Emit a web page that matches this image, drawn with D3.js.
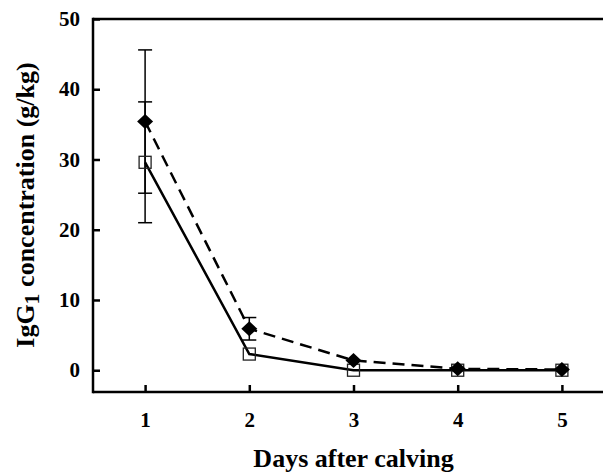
<!DOCTYPE html>
<html>
<head>
<meta charset="utf-8">
<script src="https://cdnjs.cloudflare.com/ajax/libs/d3/7.8.5/d3.min.js"></script>
<style>
  body { margin: 0; background: #fff; }
  svg { display: block; }
  text { font-family: "Liberation Serif", "Times New Roman", serif; font-weight: bold; fill: #000; }
</style>
</head>
<body>
<script>
const width = 603;
const height = 473;

// data
const days = [1, 2, 3, 4, 5];
const dashedValues = [35.4, 5.9, 1.4, 0.2, 0.1];   // filled diamonds
const dashedErrors = [10.2, 1.6, 0, 0, 0];
const solidValues = [29.6, 2.3, 0.0, 0.0, 0.0];    // open squares
const solidErrors = [8.6, 0, 0, 0, 0];
const yTicks = [0, 10, 20, 30, 40, 50];

const plotLeft = 93, plotTop = 19, plotBottom = 392;

const svg = d3.select("body").append("svg")
  .attr("width", width)
  .attr("height", height);

const x = d3.scaleLinear().domain([0.5, 5.5]).range([plotLeft, plotLeft + 5 * 104.2]);
const y = d3.scaleLinear().domain([-3.1, 50]).range([plotBottom, plotTop]);

const seriesA = days.map((d, i) => ({ day: d, v: dashedValues[i], e: dashedErrors[i] }));
const seriesB = days.map((d, i) => ({ day: d, v: solidValues[i], e: solidErrors[i] }));

// axes
const yAxis = svg.append("g")
  .attr("transform", `translate(${plotLeft},0)`)
  .call(d3.axisLeft(y).tickValues(yTicks).tickSizeInner(-7).tickSizeOuter(0).tickPadding(13));
const xAxis = svg.append("g")
  .attr("transform", `translate(0,${plotBottom})`)
  .call(d3.axisBottom(x).tickValues(days).tickSizeInner(-7).tickSizeOuter(0).tickPadding(20).tickFormat(d3.format("d")));

[yAxis, xAxis].forEach(g => {
  g.select(".domain").attr("stroke", "#000").attr("stroke-width", 2.5);
  g.selectAll(".tick line").attr("stroke", "#000").attr("stroke-width", 2.5);
  g.selectAll(".tick text").style("font-size", "21px").style("font-family", "Liberation Serif").style("font-weight", "bold");
});
xAxis.select(".domain").attr("d", `M${plotLeft},0H${width}`);
yAxis.select(".domain").attr("d", `M0,${plotTop - 1.2}V${plotBottom + 1.2}`);

// top border
svg.append("line")
  .attr("x1", plotLeft).attr("x2", width)
  .attr("y1", plotTop).attr("y2", plotTop)
  .attr("stroke", "#000").attr("stroke-width", 2.5);

// error bars
function errorBars(data) {
  const g = svg.append("g").attr("stroke", "#000").attr("stroke-width", 1.5);
  data.filter(d => d.e > 0).forEach(d => {
    const cx = x(d.day);
    g.append("line").attr("x1", cx).attr("x2", cx).attr("y1", y(d.v - d.e)).attr("y2", y(d.v + d.e));
    [d.v - d.e, d.v + d.e].forEach(v => {
      g.append("line").attr("x1", cx - 7).attr("x2", cx + 7).attr("y1", y(v)).attr("y2", y(v));
    });
  });
}
errorBars(seriesA);
errorBars(seriesB);

const line = d3.line().x(d => x(d.day)).y(d => y(d.v));

svg.append("path")
  .datum(seriesB)
  .attr("d", line)
  .attr("fill", "none")
  .attr("stroke", "#000")
  .attr("stroke-width", 2.5);

svg.append("path")
  .datum(seriesA)
  .attr("d", line)
  .attr("fill", "none")
  .attr("stroke", "#000")
  .attr("stroke-width", 2.5)
  .attr("stroke-dasharray", "12,7");

// markers
svg.append("g").selectAll("rect")
  .data(seriesB)
  .enter().append("rect")
  .attr("x", d => x(d.day) - 6)
  .attr("y", d => y(d.v) - 6)
  .attr("width", 12)
  .attr("height", 12)
  .attr("fill", "none")
  .attr("stroke", "#222")
  .attr("stroke-width", 1.3);

svg.append("g").selectAll("path")
  .data(seriesA)
  .enter().append("path")
  .attr("transform", d => `translate(${x(d.day)},${y(d.v)})`)
  .attr("d", "M0,-7.5L8,0L0,7.5L-8,0Z")
  .attr("fill", "#000");

// axis titles
svg.append("text")
  .attr("x", x(3))
  .attr("y", 467)
  .attr("text-anchor", "middle")
  .style("font-size", "26px")
  .text("Days after calving");

const yTitle = svg.append("text")
  .attr("transform", `translate(34,205) rotate(-90)`)
  .attr("text-anchor", "middle")
  .style("font-size", "26px");
yTitle.append("tspan").text("IgG");
yTitle.append("tspan").attr("dy", 5).style("font-size", "22px").text("1");
yTitle.append("tspan").attr("dy", -5).text(" concentration (g/kg)");
</script>
</body>
</html>
